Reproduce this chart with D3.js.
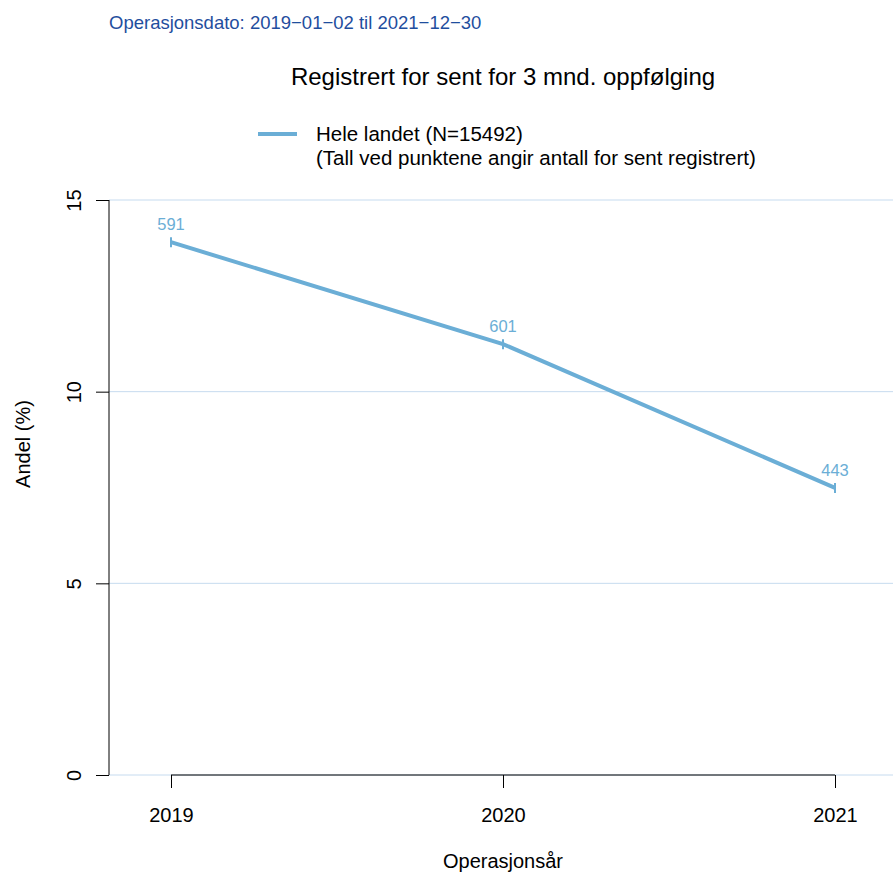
<!DOCTYPE html>
<html>
<head>
<meta charset="utf-8">
<script src="https://cdn.jsdelivr.net/npm/d3@7"></script>
<style>
  body { margin: 0; background: #fff; }
  svg text { font-family: "Liberation Sans", Arial, sans-serif; }
</style>
</head>
<body>
<div id="chart"></div>
<script>
var years = [2019, 2020, 2021];
var andel = [13.9, 11.24, 7.49];
var antall = [591, 601, 443];
var yTicks = [0, 5, 10, 15];

var width = 893,
    height = 875;

var lineCol = "#6baed6";

var svg = d3.select("#chart").append("svg")
    .attr("width", width)
    .attr("height", height);

var x = d3.scaleLinear()
    .domain([2019, 2021])
    .range([171, 835]);

var y = d3.scaleLinear()
    .domain([0, 15])
    .range([775, 200]);

// gridlines
svg.selectAll(".grid")
    .data(yTicks)
    .enter().append("line")
    .attr("x1", 109)
    .attr("x2", width)
    .attr("y1", function(d) { return y(d); })
    .attr("y2", function(d) { return y(d); })
    .attr("stroke", "#c6dbef")
    .attr("stroke-width", 1);

// y axis
var yAxis = svg.append("g")
    .attr("transform", "translate(109,0)")
    .call(d3.axisLeft(y).tickValues(yTicks).tickSize(13));
yAxis.select(".domain").attr("d", "M0," + y(15) + "V" + y(0));
yAxis.selectAll(".tick text")
    .attr("transform", "translate(-28,0) rotate(-90)")
    .attr("x", 0)
    .attr("y", 0)
    .attr("dy", 0)
    .style("text-anchor", "middle")
    .style("font-size", "20px")
    .attr("fill", "#000");

// x axis
var xAxis = svg.append("g")
    .attr("transform", "translate(0,775)")
    .call(d3.axisBottom(x).tickValues(years).tickFormat(d3.format("d")).tickSize(13));
xAxis.select(".domain").attr("d", "M" + x(2019) + ",0H" + x(2021));
xAxis.selectAll(".tick text")
    .attr("y", 47)
    .attr("dy", 0)
    .style("font-size", "20px")
    .attr("fill", "#000");

svg.selectAll(".domain, .tick line").attr("stroke", "#000");

// line
var pts = years.map(function(d, i) { return { year: d, val: andel[i], n: antall[i] }; });

svg.append("path")
    .datum(pts)
    .attr("fill", "none")
    .attr("stroke", lineCol)
    .attr("stroke-width", 4)
    .attr("d", d3.line()
        .x(function(d) { return x(d.year); })
        .y(function(d) { return y(d.val); }));

svg.selectAll(".pt")
    .data(pts)
    .enter().append("line")
    .attr("x1", function(d) { return x(d.year); })
    .attr("x2", function(d) { return x(d.year); })
    .attr("y1", function(d) { return y(d.val) - 5; })
    .attr("y2", function(d) { return y(d.val) + 5; })
    .attr("stroke", lineCol)
    .attr("stroke-width", 2);

svg.selectAll(".lab")
    .data(pts)
    .enter().append("text")
    .attr("x", function(d) { return x(d.year); })
    .attr("y", function(d) { return y(d.val) - 12; })
    .attr("text-anchor", "middle")
    .attr("fill", lineCol)
    .style("font-size", "16.5px")
    .text(function(d) { return d.n; });

// titles
svg.append("text")
    .attr("x", 109)
    .attr("y", 29)
    .attr("fill", "#1f4e9e")
    .style("font-size", "18.5px")
    .text("Operasjonsdato: 2019\u221201\u221202 til 2021\u221212\u221230");

svg.append("text")
    .attr("x", 503)
    .attr("y", 85)
    .attr("text-anchor", "middle")
    .style("font-size", "24px")
    .text("Registrert for sent for 3 mnd. oppfølging");

// legend
svg.append("line")
    .attr("x1", 258).attr("x2", 297)
    .attr("y1", 134).attr("y2", 134)
    .attr("stroke", lineCol)
    .attr("stroke-width", 4);
svg.append("text")
    .attr("x", 316).attr("y", 141)
    .style("font-size", "20.5px")
    .text("Hele landet (N=15492)");
svg.append("text")
    .attr("x", 316).attr("y", 165)
    .style("font-size", "20.5px")
    .text("(Tall ved punktene angir antall for sent registrert)");

// axis titles
svg.append("text")
    .attr("x", 503)
    .attr("y", 868)
    .attr("text-anchor", "middle")
    .style("font-size", "20px")
    .text("Operasjonsår");

svg.append("text")
    .attr("transform", "translate(30,444) rotate(-90)")
    .attr("text-anchor", "middle")
    .style("font-size", "20px")
    .text("Andel (%)");
</script>
</body>
</html>
